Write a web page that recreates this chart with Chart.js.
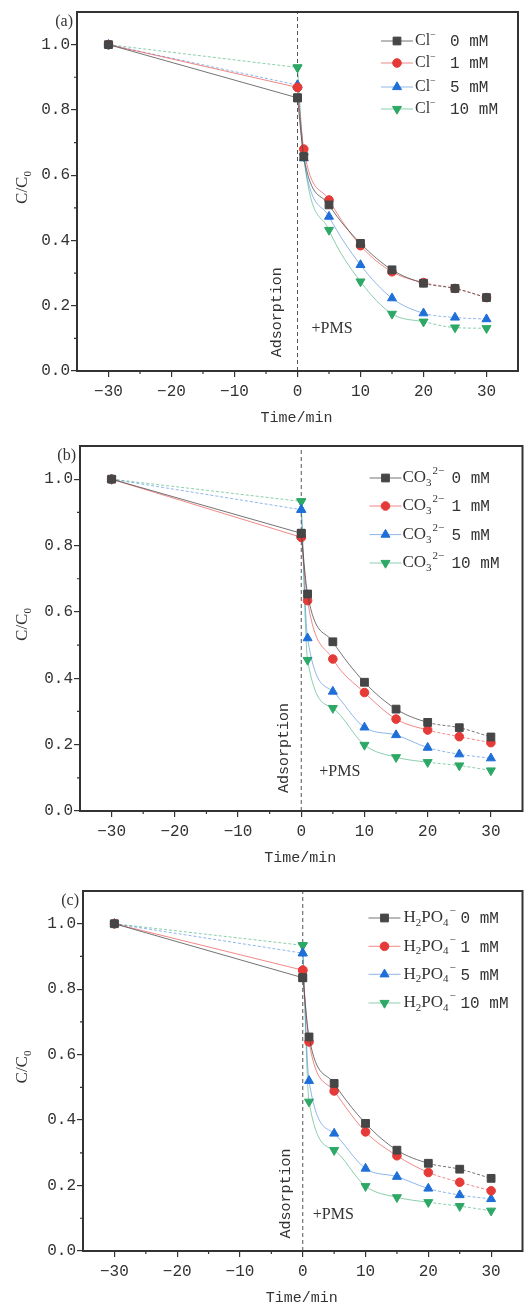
<!DOCTYPE html>
<html>
<head>
<meta charset="utf-8">
<script src="https://cdn.jsdelivr.net/npm/chart.js@4.4.1/dist/chart.umd.min.js"></script>
<style>
  html, body { margin: 0; padding: 0; background: #fff; }
  #wrap { position: relative; width: 529px; height: 1309px; overflow: hidden; }
  canvas { position: absolute; left: 0; }
</style>
</head>
<body>
<div id="wrap">
  <canvas id="chartA" width="529" height="430" style="top:0px"></canvas>
  <canvas id="chartB" width="529" height="440" style="top:430px"></canvas>
  <canvas id="chartC" width="529" height="439" style="top:870px"></canvas>
</div>
<script>
// sampling times (min), adsorption from -30 to 0, PMS added at 0
const times = [-30, 0, 1, 5, 10, 15, 20, 25, 30];
const xTicks = [-30, -20, -10, 0, 10, 20, 30];
const yTicks = [0, 0.2, 0.4, 0.6, 0.8, 1.0];
const concLabels = ['0 mM', '1 mM', '5 mM', '10 mM'];

// (a) Cl-
const cl0  = [1.0, 0.837, 0.657, 0.509, 0.391, 0.310, 0.269, 0.253, 0.225];
const cl1  = [1.0, 0.869, 0.680, 0.524, 0.384, 0.304, 0.271, 0.253, 0.225];
const cl5  = [1.0, 0.876, 0.652, 0.473, 0.325, 0.223, 0.177, 0.164, 0.159];
const cl10 = [1.0, 0.930, 0.657, 0.432, 0.274, 0.175, 0.151, 0.133, 0.131];

// (b) CO3 2-
const co3_0  = [1.0, 0.837, 0.654, 0.510, 0.388, 0.307, 0.267, 0.251, 0.223];
const co3_1  = [1.0, 0.825, 0.634, 0.458, 0.357, 0.277, 0.244, 0.224, 0.206];
const co3_5  = [1.0, 0.908, 0.521, 0.360, 0.252, 0.229, 0.191, 0.171, 0.159];
const co3_10 = [1.0, 0.933, 0.455, 0.310, 0.199, 0.162, 0.147, 0.137, 0.122];

// (c) H2PO4-
const hpo_0  = [1.0, 0.835, 0.654, 0.512, 0.390, 0.308, 0.268, 0.250, 0.222];
const hpo_1  = [1.0, 0.858, 0.639, 0.489, 0.364, 0.291, 0.240, 0.210, 0.184];
const hpo_5  = [1.0, 0.910, 0.520, 0.359, 0.252, 0.227, 0.191, 0.171, 0.159];
const hpo_10 = [1.0, 0.934, 0.456, 0.308, 0.198, 0.164, 0.149, 0.137, 0.123];

const markColors = ['#464646', '#e53a37', '#1f6fd8', '#2da866'];
const lineColors = ['rgba(70,70,70,0.75)', 'rgba(229,58,55,0.6)', 'rgba(31,111,216,0.5)', 'rgba(45,168,102,0.55)'];
const markStyles = ['rect', 'circle', 'triangle', 'triangle'];
const markRot = [0, 0, 0, 180];
const markRadius = [5.5, 4.3, 5.2, 5.2];
const dashFirst = [false, false, true, true];

const ink = '#333';
const monoFont = '"Liberation Mono", "DejaVu Sans Mono", monospace';
const serifFont = '"Liberation Serif", "DejaVu Serif", serif';

const panels = [
  {
    id: 'chartA', tag: '(a)', series: [cl0, cl1, cl5, cl10],
    ion: [{ t: 'Cl' }, { t: '\u2212', sup: true }],
    pad: { left: 0, right: 11, top: 12, bottom: 0 }, yWidth: 77, xHeight: 59,
    legend: { dx: -121, rows: [29, 51, 75, 97], textDx: 18, concDx: 53, size: 16 },
    ads: { dx: -20, y: 0.18 }, pms: { dx: 14, y: 0.128 }
  },
  {
    id: 'chartB', tag: '(b)', series: [co3_0, co3_1, co3_5, co3_10],
    ion: [{ t: 'CO' }, { t: '3', sub: true }, { t: '2\u2212', sup: true }],
    pad: { left: 0, right: 0, top: 16, bottom: 0 }, yWidth: 80, xHeight: 59,
    legend: { dx: -137, rows: [32, 60, 88.6, 117], textDx: 17, concDx: 66, size: 17 },
    ads: { dx: -17, y: 0.19 }, pms: { dx: 18, y: 0.119 }
  },
  {
    id: 'chartC', tag: '(c)', series: [hpo_0, hpo_1, hpo_5, hpo_10],
    ion: [{ t: 'H' }, { t: '2', sub: true }, { t: 'PO' }, { t: '4', sub: true }, { t: '\u2212', sup: true }],
    pad: { left: 0, right: 2, top: 21, bottom: 0 }, yWidth: 83, xHeight: 58,
    legend: { dx: -138, rows: [27, 55.3, 83.3, 112], textDx: 19, concDx: 76, size: 17 },
    ads: { dx: -17, y: 0.176 }, pms: { dx: 10, y: 0.11 }
  }
];

// draws text pieces with sub/superscripts, returns end x
function drawRich(ctx, parts, x, y, size) {
  let cx = x;
  let afterSub = false;
  ctx.textAlign = 'left';
  ctx.textBaseline = 'middle';
  parts.forEach(p => {
    if (p.sub) {
      ctx.font = `${Math.round(size * 0.62)}px ${serifFont}`;
      ctx.fillText(p.t, cx, y + size * 0.3);
      cx += ctx.measureText(p.t).width;
      afterSub = true;
    } else if (p.sup) {
      ctx.font = `${Math.round(size * 0.62)}px ${serifFont}`;
      const sx = afterSub ? cx + 1 : cx;
      ctx.fillText(p.t, sx, y - size * 0.38);
      cx = sx + ctx.measureText(p.t).width;
      afterSub = false;
    } else {
      ctx.font = `${size}px ${serifFont}`;
      ctx.fillText(p.t, cx, y);
      cx += ctx.measureText(p.t).width;
      afterSub = false;
    }
  });
  return cx;
}

function drawMarker(ctx, i, x, y) {
  Chart.helpers.drawPoint(ctx, {
    pointStyle: markStyles[i], radius: markRadius[i], rotation: markRot[i], borderWidth: 1
  }, x, y);
}

const decorPlugin = {
  id: 'decor',
  beforeDatasetsDraw(chart) {
    const p = chart.options.plugins.decor.panel;
    const { ctx, chartArea: a, scales: { x, y } } = chart;
    const x0 = x.getPixelForValue(0);
    ctx.save();
    // dashed divider at t = 0
    ctx.strokeStyle = '#555';
    ctx.lineWidth = 1;
    ctx.setLineDash([4, 3]);
    ctx.beginPath();
    ctx.moveTo(x0, a.bottom);
    ctx.lineTo(x0, a.top);
    ctx.stroke();
    ctx.setLineDash([]);
    // Adsorption, rotated
    ctx.fillStyle = ink;
    ctx.translate(x0 + p.ads.dx, y.getPixelForValue(p.ads.y));
    ctx.rotate(-Math.PI / 2);
    ctx.font = `15px ${monoFont}`;
    ctx.textAlign = 'center';
    ctx.textBaseline = 'middle';
    ctx.fillText('Adsorption', 0, 0);
    ctx.restore();
    ctx.save();
    ctx.fillStyle = ink;
    ctx.font = `16px ${serifFont}`;
    ctx.textAlign = 'left';
    ctx.textBaseline = 'middle';
    ctx.fillText('+PMS', x0 + p.pms.dx, y.getPixelForValue(p.pms.y));
    ctx.restore();
  },
  afterDraw(chart) {
    const p = chart.options.plugins.decor.panel;
    const { ctx, chartArea: a, scales: { x, y } } = chart;
    ctx.save();
    // frame
    ctx.strokeStyle = ink;
    ctx.lineWidth = 2;
    ctx.strokeRect(a.left, a.top, a.right - a.left, a.bottom - a.top);
    // minor ticks
    ctx.lineWidth = 1.2;
    ctx.beginPath();
    [-35, -25, -15, -5, 5, 15, 25].forEach(v => {
      const px = x.getPixelForValue(v);
      if (px > a.left + 1 && px < a.right - 1) {
        ctx.moveTo(px, a.bottom);
        ctx.lineTo(px, a.bottom + 3);
      }
    });
    [0.1, 0.3, 0.5, 0.7, 0.9].forEach(v => {
      const py = y.getPixelForValue(v);
      ctx.moveTo(a.left, py);
      ctx.lineTo(a.left - 3, py);
    });
    ctx.stroke();

    // panel tag
    ctx.fillStyle = ink;
    ctx.font = `16px ${serifFont}`;
    ctx.textAlign = 'right';
    ctx.textBaseline = 'middle';
    ctx.fillText(p.tag, a.left - 4, a.top + 10);

    // axis titles
    ctx.font = `15px ${monoFont}`;
    ctx.textAlign = 'center';
    ctx.fillText('Time/min', (a.left + a.right) / 2 - 1, a.bottom + 47);

    ctx.save();
    ctx.translate(23, (a.top + a.bottom) / 2 - 4);
    ctx.rotate(-Math.PI / 2);
    ctx.font = `17px ${serifFont}`;
    const w1 = ctx.measureText('C/C').width;
    ctx.font = `11px ${serifFont}`;
    const w2 = ctx.measureText('0').width;
    const sx = -(w1 + w2) / 2;
    ctx.textAlign = 'left';
    ctx.font = `17px ${serifFont}`;
    ctx.fillText('C/C', sx, 0);
    ctx.font = `11px ${serifFont}`;
    ctx.fillText('0', sx + w1, 5);
    ctx.restore();

    // legend
    const L = p.legend;
    const mx = a.right + L.dx;
    L.rows.forEach((dy, i) => {
      const ly = a.top + dy;
      ctx.strokeStyle = lineColors[i];
      ctx.lineWidth = 1;
      ctx.beginPath();
      ctx.moveTo(mx - 16, ly);
      ctx.lineTo(mx + 16, ly);
      ctx.stroke();
      ctx.fillStyle = markColors[i];
      ctx.strokeStyle = markColors[i];
      drawMarker(ctx, i, mx, ly);
      ctx.fillStyle = ink;
      drawRich(ctx, p.ion, mx + L.textDx, ly, L.size);
      ctx.font = `16px ${monoFont}`;
      ctx.textAlign = 'left';
      ctx.textBaseline = 'middle';
      ctx.fillText(concLabels[i], mx + L.concDx, ly + 1);
    });
    ctx.restore();
  }
};

function pointOpts(i) {
  return {
    backgroundColor: markColors[i],
    pointBackgroundColor: markColors[i],
    pointBorderColor: markColors[i],
    pointBorderWidth: 1,
    pointStyle: markStyles[i],
    pointRotation: markRot[i],
    pointRadius: markRadius[i],
    borderWidth: 1,
    borderColor: lineColors[i]
  };
}

function buildChart(p) {
  const datasets = [];
  p.series.forEach((vals, i) => {
    const pts = times.map((t, k) => ({ x: t, y: vals[k] }));
    // adsorption stage: straight line -30 -> 0
    datasets.push(Object.assign({
      label: concLabels[i] + ' ads',
      data: pts.slice(0, 2),
      tension: 0,
      borderDash: dashFirst[i] ? [3, 2] : []
    }, pointOpts(i)));
    // reaction stage after PMS: smooth curve from 0 on
    datasets.push(Object.assign({
      label: concLabels[i],
      data: pts.slice(1),
      cubicInterpolationMode: 'monotone',
      segment: {
        borderDash: c => (c.p0DataIndex >= 5 ? [3, 2] : undefined)
      }
    }, pointOpts(i)));
  });

  return new Chart(document.getElementById(p.id), {
    type: 'line',
    data: { datasets },
    options: {
      responsive: false,
      animation: false,
      layout: { padding: p.pad },
      plugins: {
        legend: { display: false },
        tooltip: { enabled: false },
        decor: { panel: p }
      },
      scales: {
        x: {
          type: 'linear',
          min: -35, max: 35,
          afterBuildTicks: s => { s.ticks = xTicks.map(v => ({ value: v })); },
          afterFit: s => { s.height = p.xHeight; },
          grid: { drawOnChartArea: false, drawTicks: true, tickLength: 6, color: ink, lineWidth: 1.2 },
          border: { display: false },
          ticks: {
            color: ink,
            font: { family: monoFont, size: 16 },
            padding: 5,
            maxRotation: 0,
            callback: v => (v < 0 ? '\u2212' + Math.abs(v) : String(v))
          }
        },
        y: {
          type: 'linear',
          min: 0, max: 1.1,
          afterBuildTicks: s => { s.ticks = yTicks.map(v => ({ value: v })); },
          afterFit: s => { s.width = p.yWidth; },
          grid: { drawOnChartArea: false, drawTicks: true, tickLength: 6, color: ink, lineWidth: 1.2 },
          border: { display: false },
          ticks: {
            color: ink,
            font: { family: monoFont, size: 16 },
            padding: 1,
            callback: v => v.toFixed(1)
          }
        }
      }
    },
    plugins: [decorPlugin]
  });
}

panels.forEach(buildChart);
</script>
</body>
</html>
